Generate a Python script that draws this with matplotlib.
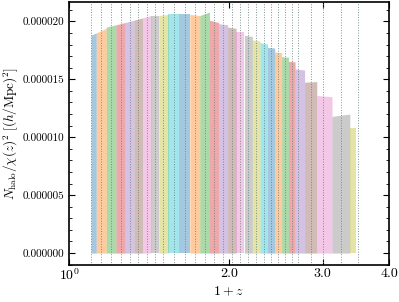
import matplotlib.pyplot as plt
from matplotlib.ticker import MultipleLocator, NullLocator, FormatStrFormatter
import numpy as np

plt.rcParams['mathtext.fontset'] = 'cm'
plt.rcParams['font.family'] = 'serif'
plt.rcParams['font.serif'] = ['cmr10']
plt.rcParams['axes.formatter.use_mathtext'] = True

# snapshot redshifts (dotted vertical lines)
z_snap = [0.100, 0.150, 0.200, 0.250, 0.300, 0.350, 0.400, 0.450, 0.500,
          0.575, 0.650, 0.725, 0.800, 0.875, 0.950, 1.025, 1.100, 1.175,
          1.250, 1.325, 1.400, 1.475, 1.550, 1.625, 1.700, 1.850, 2.000,
          2.250, 2.500]
z_min, z_max = 0.10, 2.46

# N_halo / chi^2 at the left and right edge of every shell (units of 1e-5)
top_left = [1.88, 1.90, 1.95, 1.97, 1.99, 2.01, 2.03, 2.05, 2.05, 2.06,
            2.06, 2.06, 2.05, 2.01, 1.98, 1.95, 1.91, 1.88, 1.84, 1.815,
            1.775, 1.735, 1.695, 1.655, 1.59, 1.475, 1.36, 1.18, 1.08]
top_right = [1.90, 1.94, 1.97, 1.99, 2.01, 2.03, 2.05, 2.05, 2.06, 2.06,
             2.06, 2.05, 2.08, 1.99, 1.97, 1.94, 1.91, 1.87, 1.83, 1.805,
             1.77, 1.73, 1.69, 1.65, 1.58, 1.48, 1.35, 1.20, 1.08]

colors = plt.rcParams['axes.prop_cycle'].by_key()['color']

fig = plt.figure(figsize=(3.99, 3.02), dpi=100)
ax = fig.add_axes([0.173, 0.1225, 0.802, 0.872])

zs = np.array(z_snap)
edges = np.concatenate([[z_min], 0.5 * (zs[1:] + zs[:-1]), [z_max]])

for i in range(len(zs)):
    x = [1 + edges[i], 1 + edges[i + 1]]
    y = [top_left[i] * 1e-5, top_right[i] * 1e-5]
    ax.fill_between(x, 0, y, color=colors[i % len(colors)], alpha=0.4, lw=0)

for z in zs:
    ax.axvline(1 + z, color='#5f7a7a', ls=':', lw=0.7, alpha=0.8)

ax.set_xscale('log')
ax.set_xlim(1.0, 4.0)
ax.set_ylim(-1.03e-6, 2.17e-5)

ax.set_xticks([1.0, 2.0, 3.0, 4.0])
ax.set_xticklabels([r'$10^0$', '2.0', '3.0', '4.0'])
ax.xaxis.set_minor_locator(NullLocator())
ax.yaxis.set_major_locator(MultipleLocator(5e-6))
ax.yaxis.set_minor_locator(MultipleLocator(1e-6))
ax.yaxis.set_major_formatter(FormatStrFormatter('%.6f'))

ax.tick_params(which='both', direction='in', top=True, right=True, labelsize=8)
ax.tick_params(which='major', length=4, width=0.8)
ax.tick_params(which='minor', length=2, width=0.6)
ax.tick_params(axis='x', labelsize=10, pad=2)
for s in ax.spines.values():
    s.set_linewidth(1.2)

ax.set_xlabel(r'$1+z$', fontsize=10, labelpad=1)
ax.set_ylabel(r'$N_{\rm halo}/\chi(z)^2\ [(h/{\rm Mpc})^2]$', fontsize=9.5,
              labelpad=2)

fig.savefig('out.png', dpi=100)
